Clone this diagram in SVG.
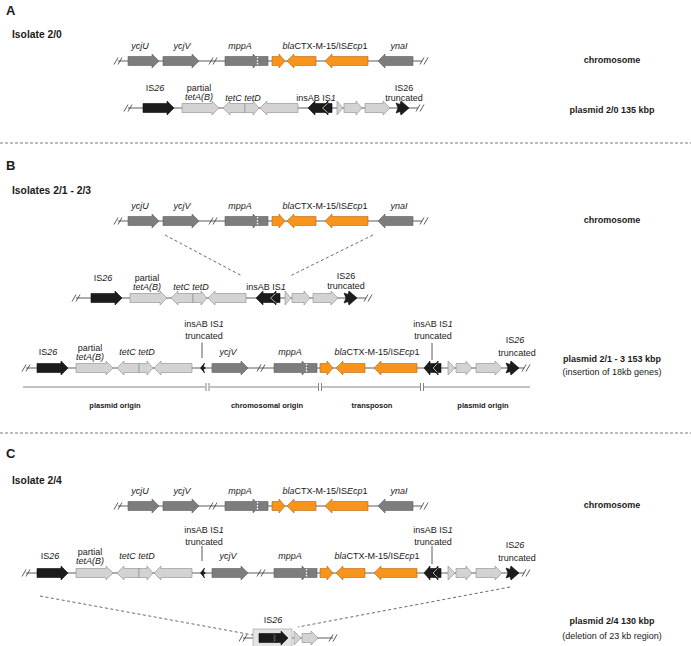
<svg xmlns="http://www.w3.org/2000/svg" width="691" height="646" viewBox="0 0 691 646">
<style>
text{font-family:"Liberation Sans",Arial,sans-serif;fill:#1a1a1a}
.t{font-size:9px;text-anchor:middle}
.i{font-style:italic}
.hd{font-size:13px;font-weight:bold}
.iso{font-size:10.3px;font-weight:bold}
.bt{font-size:9px;font-weight:bold;text-anchor:middle}
.ot{font-size:7.5px;font-weight:bold;text-anchor:middle}
.g{fill:#7d7d7d;stroke:#5e5e5e;stroke-width:0.6}
.l{fill:#d3d3d3;stroke:#8a8a8a;stroke-width:0.6}
.o{fill:#f7941d;stroke:#b96408;stroke-width:0.6}
.k{fill:#1c1c1c;stroke:#0a0a0a;stroke-width:0.6}
.bb{stroke:#333;stroke-width:0.8}
.sl{stroke:#333;stroke-width:0.8;fill:none}
.wd{stroke:#fff;stroke-width:1.4;stroke-dasharray:1.6 1.3}
.chev{fill:none;stroke:#c4c4c4;stroke-width:0.9}
.tick{stroke:#333;stroke-width:0.8}
.dash{stroke:#444;stroke-width:0.8;stroke-dasharray:3 2.5;fill:none}
.div{stroke:#555;stroke-width:0.8;stroke-dasharray:3 2}
.org{stroke:#666;stroke-width:0.8;fill:none}
</style>

<g id="dividers">
<line class="div" x1="0" y1="143" x2="691" y2="143"/>
<line class="div" x1="0" y1="433" x2="691" y2="433"/>
</g>

<g id="headers">
<text class="hd" x="6" y="14.5">A</text>
<text class="iso" x="12" y="37.5">Isolate 2/0</text>
<text class="hd" x="6" y="169.5">B</text>
<text class="iso" x="12" y="193.5">Isolates 2/1 - 2/3</text>
<text class="hd" x="6" y="457.5">C</text>
<text class="iso" x="12" y="483.5">Isolate 2/4</text>
</g>

<g id="connectors">
<line class="dash" x1="165" y1="235" x2="242" y2="276"/>
<line class="dash" x1="373" y1="235" x2="290" y2="276"/>
<line class="dash" x1="40" y1="596" x2="253" y2="635"/>
<line class="dash" x1="510" y1="587" x2="298" y2="627"/>
</g>

<g id="chromA" transform="translate(0,61)">
<line class="bb" x1="118" y1="0" x2="422" y2="0"/>
<path class="sl" d="M114,3.5 L118,-3.5 M118,3.5 L122,-3.5"/>
<polygon class="g" points="128,-4.5 152,-4.5 152,-7 159,0 152,7 152,4.5 128,4.5"/>
<polygon class="g" points="163,-4.5 192,-4.5 192,-7 199,0 192,7 192,4.5 163,4.5"/>
<path class="sl" d="M209,3.5 L213,-3.5 M213,3.5 L217,-3.5"/>
<rect class="g" x="256" y="-4.5" width="12" height="9"/>
<polygon class="g" points="225,-4.5 253,-4.5 253,-7 260,0 253,7 253,4.5 225,4.5"/>
<line class="wd" x1="257.5" y1="-4" x2="257.5" y2="4"/>
<polygon class="o" points="272,-4.5 279,-4.5 279,-7 285,0 279,7 279,4.5 272,4.5"/>
<polygon class="o" points="287,0 294,-7 294,-4.5 316,-4.5 316,4.5 294,4.5 294,7"/>
<polygon class="o" points="325,0 332,-7 332,-4.5 368,-4.5 368,4.5 332,4.5 332,7"/>
<polygon class="g" points="378,0 385,-7 385,-4.5 413,-4.5 413,4.5 385,4.5 385,7"/>
<path class="sl" d="M420,3.5 L424,-3.5 M424,3.5 L428,-3.5"/>
<text class="t i" x="140" y="-12">ycjU</text>
<text class="t i" x="182" y="-12">ycjV</text>
<text class="t i" x="240" y="-12">mppA</text>
<text class="t" x="325" y="-12"><tspan class="i">bla</tspan>CTX-M-15/IS<tspan class="i">Ecp</tspan>1</text>
<text class="t i" x="399" y="-12">ynaI</text>
</g>

<g id="plasmidA" transform="translate(0,108)">
<line class="bb" x1="128" y1="0" x2="418" y2="0"/>
<path class="sl" d="M124,3.5 L128,-3.5 M128,3.5 L132,-3.5"/>
<polygon class="k" points="143,-4.5 167,-4.5 167,-7 174,0 167,7 167,4.5 143,4.5"/>
<polygon class="l" points="182,-4.5 212,-4.5 212,-7 219,0 212,7 212,4.5 182,4.5"/>
<polygon class="l" points="223,0 230,-7 230,-4.5 245,-4.5 245,4.5 230,4.5 230,7"/>
<polygon class="l" points="245,-4.5 253,-4.5 253,-7 259,0 253,7 253,4.5 245,4.5"/>
<polygon class="l" points="260,0 267,-7 267,-4.5 298,-4.5 298,4.5 267,4.5 267,7"/>
<polygon class="k" points="308,0 315,-7 315,-4.5 326,-4.5 326,4.5 315,4.5 315,7"/>
<polygon class="k" points="321,0 328,-7 328,-4.5 332,-4.5 332,4.5 328,4.5 328,7"/>
<polyline class="chev" points="327.5,-4.5 322.5,0 327.5,4.5"/>
<polygon class="l" points="337,-7 343,0 337,7"/>
<polygon class="l" points="344,-4.5 356,-4.5 356,-7 362,0 356,7 356,4.5 344,4.5"/>
<polygon class="l" points="365,-4.5 383,-4.5 383,-7 390,0 383,7 383,4.5 365,4.5"/>
<polygon class="k" points="396,-5 400,-3.5 401,-7 409,0 401,7 400,3.5 396,5 398,0"/>
<path class="sl" d="M416,3.5 L420,-3.5 M420,3.5 L424,-3.5"/>
<text class="t" x="155" y="-17">IS<tspan class="i">26</tspan></text>
<text class="t" x="199" y="-17.5">partial</text>
<text class="t i" x="199" y="-8">tetA(B)</text>
<text class="t i" x="243" y="-7.5">tetC tetD</text>
<text class="t" x="316" y="-7.5">insAB IS<tspan class="i">1</tspan></text>
<text class="t" x="404" y="-17">IS26</text>
<text class="t" x="404" y="-7">truncated</text>
</g>

<g id="labelsRight">
<text class="bt" x="612" y="62.5">chromosome</text>
<text class="bt" x="612" y="112.5">plasmid 2/0 135 kbp</text>
<text class="bt" x="612" y="222.5">chromosome</text>
<text class="bt" x="612" y="361.5">plasmid 2/1 - 3 153 kbp</text>
<text class="t" x="612" y="375">(insertion of 18kb genes)</text>
<text class="bt" x="612" y="507.5">chromosome</text>
<text class="bt" x="612" y="624">plasmid 2/4 130 kbp</text>
<text class="t" x="612" y="639">(deletion of 23 kb region)</text>
</g>

<g id="chromB" transform="translate(0,221)">
<line class="bb" x1="118" y1="0" x2="422" y2="0"/>
<path class="sl" d="M114,3.5 L118,-3.5 M118,3.5 L122,-3.5"/>
<polygon class="g" points="128,-4.5 152,-4.5 152,-7 159,0 152,7 152,4.5 128,4.5"/>
<polygon class="g" points="163,-4.5 192,-4.5 192,-7 199,0 192,7 192,4.5 163,4.5"/>
<path class="sl" d="M209,3.5 L213,-3.5 M213,3.5 L217,-3.5"/>
<rect class="g" x="256" y="-4.5" width="12" height="9"/>
<polygon class="g" points="225,-4.5 253,-4.5 253,-7 260,0 253,7 253,4.5 225,4.5"/>
<line class="wd" x1="257.5" y1="-4" x2="257.5" y2="4"/>
<polygon class="o" points="272,-4.5 279,-4.5 279,-7 285,0 279,7 279,4.5 272,4.5"/>
<polygon class="o" points="287,0 294,-7 294,-4.5 316,-4.5 316,4.5 294,4.5 294,7"/>
<polygon class="o" points="325,0 332,-7 332,-4.5 368,-4.5 368,4.5 332,4.5 332,7"/>
<polygon class="g" points="378,0 385,-7 385,-4.5 413,-4.5 413,4.5 385,4.5 385,7"/>
<path class="sl" d="M420,3.5 L424,-3.5 M424,3.5 L428,-3.5"/>
<text class="t i" x="140" y="-12">ycjU</text>
<text class="t i" x="182" y="-12">ycjV</text>
<text class="t i" x="240" y="-12">mppA</text>
<text class="t" x="325" y="-12"><tspan class="i">bla</tspan>CTX-M-15/IS<tspan class="i">Ecp</tspan>1</text>
<text class="t i" x="399" y="-12">ynaI</text>
</g>

<g id="plasmidB1" transform="translate(-52,298)">
<line class="bb" x1="128" y1="0" x2="418" y2="0"/>
<path class="sl" d="M124,3.5 L128,-3.5 M128,3.5 L132,-3.5"/>
<polygon class="k" points="143,-4.5 167,-4.5 167,-7 174,0 167,7 167,4.5 143,4.5"/>
<polygon class="l" points="182,-4.5 212,-4.5 212,-7 219,0 212,7 212,4.5 182,4.5"/>
<polygon class="l" points="223,0 230,-7 230,-4.5 245,-4.5 245,4.5 230,4.5 230,7"/>
<polygon class="l" points="245,-4.5 253,-4.5 253,-7 259,0 253,7 253,4.5 245,4.5"/>
<polygon class="l" points="260,0 267,-7 267,-4.5 298,-4.5 298,4.5 267,4.5 267,7"/>
<polygon class="k" points="308,0 315,-7 315,-4.5 326,-4.5 326,4.5 315,4.5 315,7"/>
<polygon class="k" points="321,0 328,-7 328,-4.5 332,-4.5 332,4.5 328,4.5 328,7"/>
<polyline class="chev" points="327.5,-4.5 322.5,0 327.5,4.5"/>
<polygon class="l" points="337,-7 343,0 337,7"/>
<polygon class="l" points="344,-4.5 356,-4.5 356,-7 362,0 356,7 356,4.5 344,4.5"/>
<polygon class="l" points="365,-4.5 383,-4.5 383,-7 390,0 383,7 383,4.5 365,4.5"/>
<polygon class="k" points="396,-5 400,-3.5 401,-7 409,0 401,7 400,3.5 396,5 398,0"/>
<path class="sl" d="M416,3.5 L420,-3.5 M420,3.5 L424,-3.5"/>
<text class="t" x="155" y="-17.5">IS<tspan class="i">26</tspan></text>
<text class="t" x="199" y="-17.5">partial</text>
<text class="t i" x="199" y="-8">tetA(B)</text>
<text class="t i" x="243" y="-8">tetC tetD</text>
<text class="t" x="318" y="-8">insAB IS<tspan class="i">1</tspan></text>
<text class="t" x="398" y="-19.5">IS26</text>
<text class="t" x="398" y="-9.5">truncated</text>
</g>

<g id="plasmidB2" transform="translate(0,368)">
<line class="bb" x1="26" y1="0" x2="524" y2="0"/>
<path class="sl" d="M22,3.5 L26,-3.5 M26,3.5 L30,-3.5"/>
<polygon class="k" points="37,-4.5 61,-4.5 61,-7 68,0 61,7 61,4.5 37,4.5"/>
<polygon class="l" points="76,-4.5 106,-4.5 106,-7 113,0 106,7 106,4.5 76,4.5"/>
<polygon class="l" points="117,0 124,-7 124,-4.5 139,-4.5 139,4.5 124,4.5 124,7"/>
<polygon class="l" points="139,-4.5 147,-4.5 147,-7 153,0 147,7 147,4.5 139,4.5"/>
<polygon class="l" points="154,0 161,-7 161,-4.5 192,-4.5 192,4.5 161,4.5 161,7"/>
<polygon class="k" points="200.5,0 204.5,-5 203.5,-1.5 205.5,0 203.5,1.5 204.5,5"/>
<polygon class="g" points="212,-4.5 241,-4.5 241,-7 248,0 241,7 241,4.5 212,4.5"/>
<path class="sl" d="M257,3.5 L261,-3.5 M261,3.5 L265,-3.5"/>
<rect class="g" x="305" y="-4.5" width="12" height="9"/>
<polygon class="g" points="274,-4.5 302,-4.5 302,-7 309,0 302,7 302,4.5 274,4.5"/>
<line class="wd" x1="306.5" y1="-4" x2="306.5" y2="4"/>
<polygon class="o" points="320,-4.5 327,-4.5 327,-7 333,0 327,7 327,4.5 320,4.5"/>
<polygon class="o" points="336,0 343,-7 343,-4.5 365,-4.5 365,4.5 343,4.5 343,7"/>
<polygon class="o" points="374,0 381,-7 381,-4.5 417,-4.5 417,4.5 381,4.5 381,7"/>
<polygon class="k" points="424,0 430,-7 430,-4.5 437,-4.5 437,4.5 430,4.5 430,7"/>
<polygon class="k" points="432,0 438,-7 438,-4.5 441,-4.5 441,4.5 438,4.5 438,7"/>
<polyline class="chev" points="437.5,-4.5 433,0 437.5,4.5"/>
<polygon class="l" points="448,-7 455,0 448,7"/>
<polygon class="l" points="456,-4.5 466,-4.5 466,-7 472,0 466,7 466,4.5 456,4.5"/>
<polygon class="l" points="476,-4.5 495,-4.5 495,-7 502,0 495,7 495,4.5 476,4.5"/>
<polygon class="k" points="506,-5 510,-3.5 511,-7 519,0 511,7 510,3.5 506,5 508,0"/>
<path class="sl" d="M522,3.5 L526,-3.5 M526,3.5 L530,-3.5"/>
<line class="tick" x1="202" y1="-25.5" x2="202" y2="-10"/>
<line class="tick" x1="432" y1="-25" x2="432" y2="-8"/>
<text class="t" x="48" y="-13">IS<tspan class="i">26</tspan></text>
<text class="t" x="90" y="-17.5">partial</text>
<text class="t i" x="90" y="-8.5">tetA(B)</text>
<text class="t i" x="137" y="-13">tetC tetD</text>
<text class="t" x="204" y="-41.5">insAB IS<tspan class="i">1</tspan></text>
<text class="t" x="204" y="-29.5">truncated</text>
<text class="t i" x="228" y="-13">ycjV</text>
<text class="t i" x="290" y="-13">mppA</text>
<text class="t" x="377" y="-13"><tspan class="i">bla</tspan>CTX-M-15/IS<tspan class="i">Ecp</tspan>1</text>
<text class="t" x="433" y="-41.5">insAB IS<tspan class="i">1</tspan></text>
<text class="t" x="433" y="-29.5">truncated</text>
<text class="t" x="515" y="-25.5">IS<tspan class="i">26</tspan></text>
<text class="t" x="517" y="-12.5">truncated</text>
</g>

<g id="origins">
<path class="org" d="M23,387 H205 M206,383 V391 M209,383 V391 M210,387 H318 M318.5,383 V391 M321.5,383 V391 M322,387 H420 M420.5,383 V391 M423.5,383 V391 M424,387 H530"/>
<text class="ot" x="115" y="407.5">plasmid origin</text>
<text class="ot" x="267" y="407.5">chromosomal origin</text>
<text class="ot" x="372" y="407.5">transposon</text>
<text class="ot" x="483" y="407.5">plasmid origin</text>
</g>

<g id="chromC" transform="translate(0,506)">
<line class="bb" x1="118" y1="0" x2="422" y2="0"/>
<path class="sl" d="M114,3.5 L118,-3.5 M118,3.5 L122,-3.5"/>
<polygon class="g" points="128,-4.5 152,-4.5 152,-7 159,0 152,7 152,4.5 128,4.5"/>
<polygon class="g" points="163,-4.5 192,-4.5 192,-7 199,0 192,7 192,4.5 163,4.5"/>
<path class="sl" d="M209,3.5 L213,-3.5 M213,3.5 L217,-3.5"/>
<rect class="g" x="256" y="-4.5" width="12" height="9"/>
<polygon class="g" points="225,-4.5 253,-4.5 253,-7 260,0 253,7 253,4.5 225,4.5"/>
<line class="wd" x1="257.5" y1="-4" x2="257.5" y2="4"/>
<polygon class="o" points="272,-4.5 279,-4.5 279,-7 285,0 279,7 279,4.5 272,4.5"/>
<polygon class="o" points="287,0 294,-7 294,-4.5 316,-4.5 316,4.5 294,4.5 294,7"/>
<polygon class="o" points="325,0 332,-7 332,-4.5 368,-4.5 368,4.5 332,4.5 332,7"/>
<polygon class="g" points="378,0 385,-7 385,-4.5 413,-4.5 413,4.5 385,4.5 385,7"/>
<path class="sl" d="M420,3.5 L424,-3.5 M424,3.5 L428,-3.5"/>
<text class="t i" x="140" y="-12">ycjU</text>
<text class="t i" x="182" y="-12">ycjV</text>
<text class="t i" x="240" y="-12">mppA</text>
<text class="t" x="325" y="-12"><tspan class="i">bla</tspan>CTX-M-15/IS<tspan class="i">Ecp</tspan>1</text>
<text class="t i" x="399" y="-12">ynaI</text>
</g>

<g id="plasmidC" transform="translate(0,573)">
<line class="bb" x1="26" y1="0" x2="524" y2="0"/>
<path class="sl" d="M22,3.5 L26,-3.5 M26,3.5 L30,-3.5"/>
<polygon class="k" points="37,-4.5 61,-4.5 61,-7 68,0 61,7 61,4.5 37,4.5"/>
<polygon class="l" points="76,-4.5 106,-4.5 106,-7 113,0 106,7 106,4.5 76,4.5"/>
<polygon class="l" points="117,0 124,-7 124,-4.5 139,-4.5 139,4.5 124,4.5 124,7"/>
<polygon class="l" points="139,-4.5 147,-4.5 147,-7 153,0 147,7 147,4.5 139,4.5"/>
<polygon class="l" points="154,0 161,-7 161,-4.5 192,-4.5 192,4.5 161,4.5 161,7"/>
<polygon class="k" points="200.5,0 204.5,-5 203.5,-1.5 205.5,0 203.5,1.5 204.5,5"/>
<polygon class="g" points="212,-4.5 241,-4.5 241,-7 248,0 241,7 241,4.5 212,4.5"/>
<path class="sl" d="M257,3.5 L261,-3.5 M261,3.5 L265,-3.5"/>
<rect class="g" x="305" y="-4.5" width="12" height="9"/>
<polygon class="g" points="274,-4.5 302,-4.5 302,-7 309,0 302,7 302,4.5 274,4.5"/>
<line class="wd" x1="306.5" y1="-4" x2="306.5" y2="4"/>
<polygon class="o" points="320,-4.5 327,-4.5 327,-7 333,0 327,7 327,4.5 320,4.5"/>
<polygon class="o" points="336,0 343,-7 343,-4.5 365,-4.5 365,4.5 343,4.5 343,7"/>
<polygon class="o" points="374,0 381,-7 381,-4.5 417,-4.5 417,4.5 381,4.5 381,7"/>
<polygon class="k" points="424,0 430,-7 430,-4.5 437,-4.5 437,4.5 430,4.5 430,7"/>
<polygon class="k" points="432,0 438,-7 438,-4.5 441,-4.5 441,4.5 438,4.5 438,7"/>
<polyline class="chev" points="437.5,-4.5 433,0 437.5,4.5"/>
<polygon class="l" points="448,-7 455,0 448,7"/>
<polygon class="l" points="456,-4.5 466,-4.5 466,-7 472,0 466,7 466,4.5 456,4.5"/>
<polygon class="l" points="476,-4.5 495,-4.5 495,-7 502,0 495,7 495,4.5 476,4.5"/>
<polygon class="k" points="506,-5 510,-3.5 511,-7 519,0 511,7 510,3.5 506,5 508,0"/>
<path class="sl" d="M522,3.5 L526,-3.5 M526,3.5 L530,-3.5"/>
<line class="tick" x1="202" y1="-27" x2="202" y2="-12"/>
<line class="tick" x1="432" y1="-27" x2="432" y2="-9"/>
<text class="t" x="50" y="-14">IS<tspan class="i">26</tspan></text>
<text class="t" x="90" y="-18.5">partial</text>
<text class="t i" x="90" y="-9.5">tetA(B)</text>
<text class="t i" x="137" y="-14">tetC tetD</text>
<text class="t" x="204" y="-40">insAB IS<tspan class="i">1</tspan></text>
<text class="t" x="204" y="-28.5">truncated</text>
<text class="t i" x="228" y="-14">ycjV</text>
<text class="t i" x="290" y="-14">mppA</text>
<text class="t" x="377" y="-14"><tspan class="i">bla</tspan>CTX-M-15/IS<tspan class="i">Ecp</tspan>1</text>
<text class="t" x="433" y="-40">insAB IS<tspan class="i">1</tspan></text>
<text class="t" x="433" y="-28.5">truncated</text>
<text class="t" x="515" y="-25">IS<tspan class="i">26</tspan></text>
<text class="t" x="517" y="-12.5">truncated</text>
</g>

<g id="plasmidC2">
<line class="bb" x1="243" y1="638" x2="333" y2="638"/>
<path class="sl" d="M239,641.5 L243,634.5 M243,641.5 L247,634.5"/>
<rect x="253" y="629" width="39" height="17.5" fill="#e4e4e4" stroke="#9a9a9a" stroke-width="0.6"/>
<polygon class="k" points="259,633.5 281,633.5 281,631 288,638 281,645 281,642.5 259,642.5"/>
<polyline fill="none" stroke="#9a9a9a" stroke-width="0.7" points="273.5,634.5 275.5,636.3 273.5,638 275.5,639.8 273.5,641.5"/>
<polygon class="l" points="294,631 301,638 294,645"/>
<polygon class="l" points="302,633.5 311,633.5 311,631 318,638 311,645 311,642.5 302,642.5"/>
<path class="sl" d="M329,641.5 L333,634.5 M333,641.5 L337,634.5"/>
<text class="t" x="273" y="622.5">IS<tspan class="i">26</tspan></text>
</g>
</svg>
